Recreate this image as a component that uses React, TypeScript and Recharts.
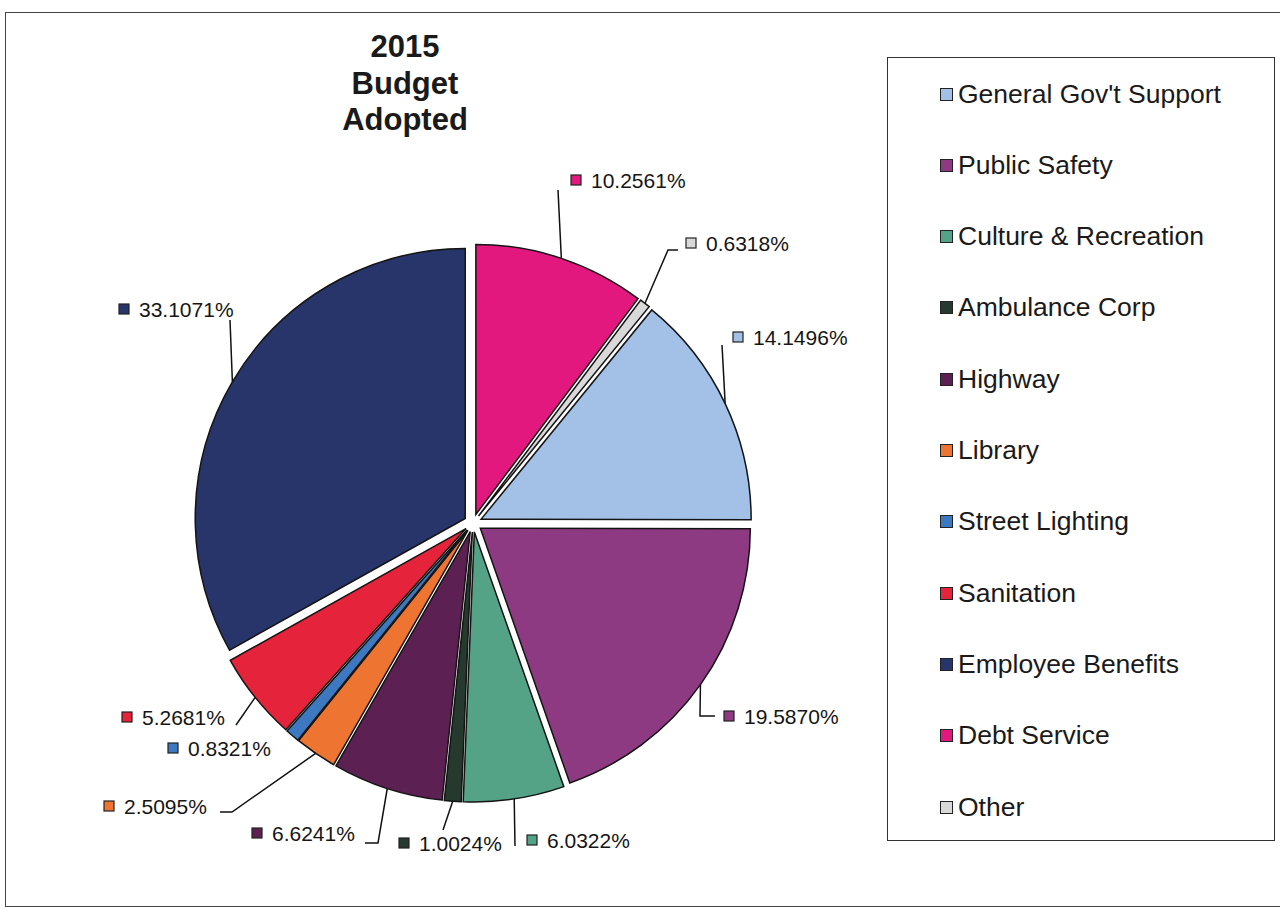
import { PieChart, Pie, Cell } from "recharts";

const CATEGORIES = [
  "General Gov't Support",
  "Public Safety",
  "Culture & Recreation",
  "Ambulance Corp",
  "Highway",
  "Library",
  "Street Lighting",
  "Sanitation",
  "Employee Benefits",
  "Debt Service",
  "Other",
];
const SHARES = [14.1496, 19.587, 6.0322, 1.0024, 6.6241, 2.5095, 0.8321, 5.2681, 33.1071, 10.2561, 0.6318];
const COLORS = [
  "#a3c0e6",
  "#8d3a82",
  "#55a387",
  "#26392e",
  "#5c2152",
  "#ee7431",
  "#3c79c1",
  "#e5243b",
  "#27356a",
  "#e2187f",
  "#d9d9d9",
];
const TITLE = ["2015", "Budget", "Adopted"];

// pie geometry
const CX = 468;
const CY = 518;
const R = 270;
const EXPLODE = 9;
const RAD = Math.PI / 180;

// label placement (offsets from pie centre): leader bends, then the legend-key square
const LABEL_LAYOUT: { via: number[][]; box: number[] }[] = [
  { via: [[254, -173]], box: [265, -181] },
  { via: [[232, 198], [247, 198]], box: [256, 198] },
  { via: [[47, 328]], box: [59, 322] },
  { via: [[-25, 312]], box: [-69, 325] },
  { via: [[-90, 325], [-103, 325]], box: [-216, 315] },
  { via: [[-236, 294], [-248, 294]], box: [-364, 288] },
  { via: [], box: [-300, 230] },
  { via: [[-232, 207]], box: [-346, 199] },
  { via: [[-238, -198]], box: [-349, -209] },
  { via: [[90, -328]], box: [103, -338] },
  { via: [[200, -268], [210, -268]], box: [218, -275] },
];

const total = SHARES.reduce((a, b) => a + b, 0);
// Excel "angle of first slice": the last two slices wrap round before 12 o'clock
const FIRST_ANGLE = ((SHARES[9] + SHARES[10]) / total) * 360;

const slices = (() => {
  let acc = FIRST_ANGLE;
  return SHARES.map((v, i) => {
    const span = (v / total) * 360;
    const start = acc;
    acc += span;
    const mid = start + span / 2;
    return {
      name: CATEGORIES[i],
      value: v,
      startAngle: 90 - start,
      endAngle: 90 - start - span,
      dx: EXPLODE * Math.sin(mid * RAD),
      dy: -EXPLODE * Math.cos(mid * RAD),
    };
  });
})();

const FONT = "Arial, 'Liberation Sans', Helvetica, sans-serif";

function makeLabel(i: number) {
  return (props: any) => {
    const { cx, cy, midAngle, outerRadius } = props;
    const ax = cx + outerRadius * Math.cos(-midAngle * RAD);
    const ay = cy + outerRadius * Math.sin(-midAngle * RAD);
    const layout = LABEL_LAYOUT[i];
    const pts = [[ax, ay], ...layout.via.map(([x, y]) => [CX + x, CY + y])];
    const bx = CX + layout.box[0];
    const by = CY + layout.box[1];
    return (
      <g key={`lbl-${i}`}>
        {pts.length > 1 && (
          <polyline
            points={pts.map((p) => p.join(",")).join(" ")}
            fill="none"
            stroke="#111"
            strokeWidth={1.5}
          />
        )}
        <rect x={bx} y={by - 5} width={10} height={10} fill={COLORS[i]} stroke="#222" strokeWidth={1.2} />
        <text
          x={bx + 20}
          y={by}
          dominantBaseline="central"
          fontSize={21}
          fontFamily={FONT}
          fill="#151515"
        >
          {`${SHARES[i].toFixed(4)}%`}
        </text>
      </g>
    );
  };
}

export default function App() {
  return (
    <div
      style={{
        position: "absolute",
        left: 0,
        top: 0,
        width: 1280,
        height: 909,
        background: "#fff",
        fontFamily: FONT,
        overflow: "hidden",
      }}
    >
      {/* outer chart frame */}
      <div
        style={{
          position: "absolute",
          left: 5,
          top: 12,
          width: 1300,
          height: 893,
          border: "1.5px solid #444",
        }}
      />
      <PieChart width={1280} height={909} style={{ position: "absolute", left: 0, top: 0 }}>
        {slices.map((s, i) => (
          <Pie
            key={s.name}
            data={[{ name: s.name, value: s.value }]}
            dataKey="value"
            cx={CX + s.dx}
            cy={CY + s.dy}
            outerRadius={R}
            startAngle={s.startAngle}
            endAngle={s.endAngle}
            stroke="#141414"
            strokeWidth={1.5}
            label={makeLabel(i)}
            labelLine={false}
            isAnimationActive={false}
          >
            <Cell fill={COLORS[i]} />
          </Pie>
        ))}
      </PieChart>
      {/* title */}
      <div
        style={{
          position: "absolute",
          left: 300,
          top: 29,
          width: 210,
          textAlign: "center",
          fontWeight: "bold",
          fontSize: 31,
          lineHeight: "36.5px",
          color: "#1a1a1a",
        }}
      >
        {TITLE.map((t) => (
          <div key={t}>{t}</div>
        ))}
      </div>
      {/* legend */}
      <div
        style={{
          position: "absolute",
          left: 887,
          top: 57,
          width: 388,
          height: 784,
          border: "1.5px solid #333",
          boxSizing: "border-box",
        }}
      >
        {CATEGORIES.map((c, i) => (
          <div
            key={c}
            style={{
              position: "absolute",
              left: 52,
              top: 36 + i * 71.3 - 18,
              height: 36,
              display: "flex",
              alignItems: "center",
              fontSize: 26.5,
              color: "#1a1a1a",
              whiteSpace: "nowrap",
            }}
          >
            <span
              style={{
                display: "inline-block",
                width: 11,
                height: 11,
                background: COLORS[i],
                border: "1.5px solid #222",
                marginRight: 5,
              }}
            />
            {c}
          </div>
        ))}
      </div>
    </div>
  );
}
